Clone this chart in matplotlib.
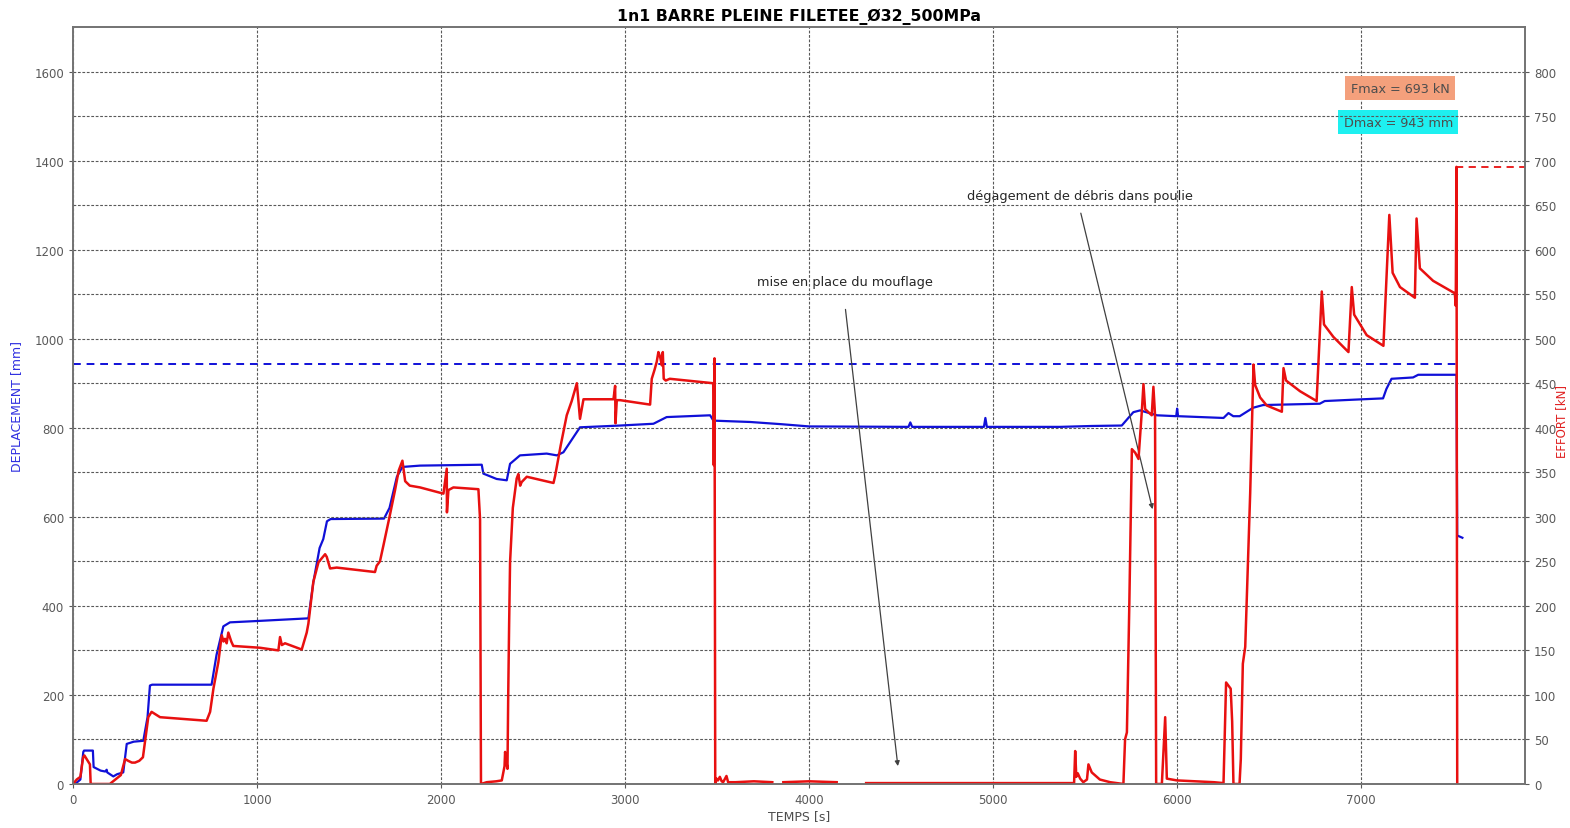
import numpy as np
import matplotlib
matplotlib.use("Agg")
import matplotlib.pyplot as plt

# Displacement record (time [s], displacement [mm])
t_d = [0, 20, 40, 56, 60, 108, 112, 150, 175, 183, 186, 219, 240, 273, 292, 330,
       382, 405, 418, 430, 753, 780, 817, 853, 1000, 1279, 1306, 1340, 1360, 1380,
       1400, 1690, 1720, 1760, 1790, 1886, 2221, 2230, 2302, 2357, 2375, 2429,
       2574, 2629, 2665, 2755, 2973, 3154, 3226, 3462, 3480, 3679, 3850, 4000,
       4540, 4550, 4560, 4950, 4958, 4966, 5364, 5536, 5699, 5762, 5799, 5890,
       5995, 6000, 6005, 6252, 6279, 6305, 6340, 6413, 6467, 6775, 6802, 6956,
       7119, 7137, 7165, 7282, 7310, 7518, 7522, 7550]
d_mm = [0, 3, 10, 72, 75, 75, 38, 30, 28, 32, 26, 17, 22, 26, 90, 95,
        97, 150, 221, 223, 223, 290, 354, 363, 366, 372, 453, 530, 550, 590,
        595, 596, 620, 690, 712, 715, 717, 697, 685, 682, 719, 738,
        742, 738, 745, 801, 805, 809, 824, 828, 816, 813, 808, 803,
        802, 812, 802, 802, 822, 802, 802, 804, 805, 835, 839, 828,
        826, 843, 826, 822, 833, 826, 826, 845, 851, 854, 860, 863,
        866, 887, 910, 913, 919, 919, 558, 553]

# Force record (time [s], force [kN]); nan = missing samples
t_f = [0, 20, 40, 55, 62, 80, 92, 96, 200, 230, 260, 283, 300, 320, 337, 360,
       380, 391, 409, 427, 473, 726, 745, 763, 790, 808, 818, 826, 835, 844, 860,
       871, 1015, 1116, 1125, 1135, 1152, 1243, 1270, 1279, 1306, 1334, 1370,
       1379, 1397, 1433, 1641, 1650, 1668, 1687, 1720, 1750, 1770, 1790, 1805,
       1830, 1886, 2013, 2031, 2032, 2040, 2067, 2203, 2212, 2217,
       2248, 2300, 2330, 2345, 2348, 2355, 2361, 2365, 2370, 2375, 2390, 2411,
       2420, 2430, 2438, 2466, 2611, 2620, 2650, 2683, 2710, 2738, 2755, 2774,
       2937, 2946, 2948, 2955, 2973, 3136, 3145, 3160, 3172, 3181, 3190, 3200,
       3205, 3210, 3221, 3243, 3479, 3482, 3486, 3490,
       3497, 3505, 3515, 3525, 3533, 3551, 3560, 3600, 3700, 3800, 3830, 3860,
       4000, 4150, 4160, 4310, 4500, 5000, 5364,
       5440, 5446, 5452, 5460, 5473, 5490, 5510, 5518, 5536, 5580, 5636, 5708,
       5717, 5727, 5740, 5754, 5772, 5790, 5808, 5817, 5826, 5862, 5871, 5880,
       5886, 5917, 5935, 5944, 5999, 6100, 6200, 6252, 6266, 6280, 6291, 6299,
       6306, 6339, 6346, 6357, 6370, 6397, 6415, 6424, 6451, 6487, 6569, 6578,
       6592, 6668, 6758, 6786, 6798, 6849, 6931, 6949, 6962, 7030, 7121, 7153,
       7171, 7211, 7292, 7301, 7319, 7391, 7509, 7514, 7518, 7522]
f_kn = [0, 5, 8, 30, 32, 26, 22, 0, 0, 5, 10, 28, 26, 24, 24, 26,
        30, 47, 75, 81, 75, 71, 81, 107, 137, 167, 160, 163, 158, 170, 160,
        155, 153, 150, 165, 156, 158, 151, 170, 180, 227, 249, 258,
        255, 242, 243, 238, 245, 250, 268, 300, 330, 352, 363, 340,
        335, 333, 326, 354, 305, 330, 333, 331, 297, 0,
        2, 3, 4, 20, 36, 25, 17, 100, 180, 249, 310, 343,
        348, 335, 339, 345, 338, 346, 380, 414, 430, 450, 410, 432,
        432, 447, 405, 431, 431, 426, 455, 465, 474, 485, 480, 470,
        485, 455, 453, 455, 450, 358, 478, 0,
        6, 4, 8, 3, 2, 9, 2, 2, 3, 2, np.nan, 2,
        3, 2, np.nan, 1, 1, 1, 1,
        1, 37, 8, 12, 6, 2, 5, 22, 13, 5, 2, 0,
        50, 58, 200, 376, 372, 365, 418, 449, 421, 414, 446, 414,
        0, 0, 75, 6, 4, 3, 2, 1, 114, 110, 107, 70,
        0, 0, 28, 135, 154, 327, 471, 448, 434, 425, 418, 467,
        453, 441, 430, 553, 516, 502, 485, 558, 527, 504, 492, 639,
        574, 558, 546, 635, 579, 565, 551, 537, 693, 0]

dmax = 943
fmax = np.nanmax(f_kn)
t_break = t_f[int(np.nanargmax(f_kn))]

grid_kw = dict(color="0.35", linestyle=(0, (2.5, 1.5)), linewidth=0.8)

fig = plt.figure(figsize=(15.7, 8.29), dpi=100)
ax = fig.add_axes([0.0465, 0.0531, 0.9248, 0.9131])
ax2 = ax.twinx()

ax.plot(t_d, d_mm, color="#1010d8", linewidth=1.6)
ax.plot([0, t_break], [dmax, dmax], color="#1010d8", linestyle=(0, (4, 3)), linewidth=1.4)
ax2.plot(t_f, f_kn, color="#e81010", linewidth=1.8)
ax2.plot([t_break, 7890], [fmax, fmax], color="#e81010", linestyle=(0, (4, 3)), linewidth=1.3)

ax.set_xlim(0, 7890)
ax.set_ylim(0, 1700)
ax2.set_ylim(0, 850)
ax.set_xticks(range(0, 7001, 1000))
ax.set_yticks(range(0, 1601, 200))
ax2.set_yticks(range(0, 801, 50))
ax.grid(axis="x", **grid_kw)
ax2.grid(axis="y", **grid_kw)

for a in (ax, ax2):
    a.tick_params(labelsize=8.5, colors="0.35", length=3)
    for s in a.spines.values():
        s.set_color("0.45")
        s.set_linewidth(1.2)

ax.set_title("1n1 BARRE PLEINE FILETEE_Ø32_500MPa", fontsize=11.3, fontweight="bold", pad=5)
ax.set_xlabel("TEMPS [s]", fontsize=9, color="0.3", labelpad=2)
ax.set_ylabel("DEPLACEMENT [mm]", fontsize=9, color="#3030e0", labelpad=8)
ax2.set_ylabel("EFFORT [kN]", fontsize=8.5, color="#e02020")
ax2.yaxis.set_label_coords(1.021, 0.48)

arrow_kw = dict(arrowstyle="-|>", color="0.25", linewidth=0.9, mutation_scale=7)
ax.text(4196, 1128, "mise en place du mouflage", fontsize=9.3, ha="center", va="center", color="0.15")
ax.annotate("", xy=(4484, 34), xytext=(4196, 1072), arrowprops=arrow_kw)
ax.text(5473, 1321, "dégagement de débris dans poulie", fontsize=9.3, ha="center", va="center", color="0.15")
ax.annotate("", xy=(5870, 611), xytext=(5473, 1288), arrowprops=arrow_kw)

ax.text(7212, 1562, f"Fmax = {fmax:.0f} kN", fontsize=9.2, ha="center", va="center", color="0.3",
        bbox=dict(facecolor="#f4a07c", edgecolor="none", pad=4))
ax.text(7201, 1486, f"Dmax = {dmax} mm", fontsize=9.2, ha="center", va="center", color="0.3",
        bbox=dict(facecolor="#1ef0f0", edgecolor="none", pad=4))

fig.savefig("out.png", dpi=100)
